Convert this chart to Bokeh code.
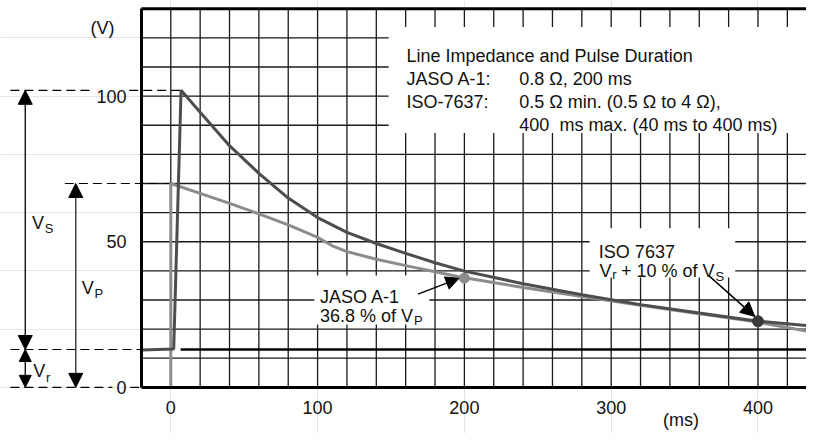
from bokeh.plotting import figure
from bokeh.models import Range1d, LinearAxis, FixedTicker, Arrow, NormalHead
from bokeh.core.properties import value
from bokeh.embed import file_html
from bokeh.resources import INLINE

# ---------------- data ----------------
ISO_T = [-20, 2, 7, 20, 40, 60, 80, 100, 120, 140, 160, 180, 200, 240, 280, 320, 360, 400, 433]
ISO_V = [12.8, 13.2, 102, 94.5, 83, 73.5, 65, 58.3, 53.2, 49.4, 46.0, 42.8, 39.9, 35.6, 31.8, 28.4, 25.5, 22.7, 21.2]

JASO_T = [0, 0, 20, 40, 60, 80, 100, 110, 120, 140, 160, 180, 200, 240, 280, 320, 360, 400, 433]
JASO_V = [0, 70, 66.6, 63.2, 59.6, 55.8, 51.5, 48.6, 46.6, 44.0, 41.8, 39.7, 37.6, 34.3, 31.2, 28.2, 25.3, 22.4, 19.3]

MARK_T = [200, 400]
MARK_V = [37.5, 22.7]

V_R = 13        # Vr level
V_S_PEAK = 102  # ISO peak
V_P_PEAK = 70   # JASO peak
ISO_PEAK_T = 7
RISE_T = 6.7

X_TICKS = [0, 100, 200, 300, 400]
Y_TICKS = [0, 50, 100]
X_GRID = list(range(0, 440, 20))
Y_GRID = list(range(10, 130, 10))
X_MIN, X_MAX = -20, 440
Y_MAX = 130

# ---------------- layout helpers ----------------
W, H = 806, 433
X0, X1 = -116.0, 433.05
Y0, Y1 = -15.85, 132.84
S = W / 814.0


def X(px):   # reference-picture pixel -> data x
    return X0 + px * (X1 - X0) / 814.0


def Y(py):   # reference-picture pixel -> data y
    return Y1 - py * (Y1 - Y0) / 441.0


FONT = value("Liberation Sans")
FS = value("18px")
SUB = value("13px")
DARK = "#4d4d4d"
LIGHT = "#8c8c8c"
INK = "#111111"

p = figure(width=W, height=H, x_range=Range1d(X0, X1), y_range=Range1d(Y0, Y1),
           output_backend="svg", toolbar_location=None, min_border=0,
           x_axis_location=None, y_axis_location=None, title=None)
p.outline_line_color = None
p.background_fill_color = "white"
p.border_fill_color = "white"

# grid
p.segment(x0=X_GRID, y0=0, x1=X_GRID, y1=Y_MAX, line_color="#1a1a1a", line_width=1.3)
p.segment(x0=X_MIN, y0=Y_GRID, x1=X_MAX, y1=Y_GRID, line_color="#1a1a1a", line_width=1.3)
p.segment(x0=X_MIN, y0=Y_MAX, x1=X_MAX, y1=Y_MAX, line_color="black", line_width=3)

# white label boxes
p.quad(left=[X(392), X(317), X(595)], right=[X_MAX, X(433), X(742)],
       top=[Y(27), Y(280), Y(232)], bottom=[Y(135), Y(330), Y(282)],
       fill_color="white", line_color=None)

# dashed guide lines
dash = dict(line_color="black", line_width=1.2, line_dash="9 5")
p.segment(x0=[X(10), X(130)], y0=V_S_PEAK, x1=[X(93), ISO_PEAK_T], y1=V_S_PEAK, **dash)
p.segment(x0=X(65), y0=V_P_PEAK, x1=0, y1=V_P_PEAK, **dash)
p.segment(x0=X(10), y0=V_R, x1=X_MIN, y1=V_R, **dash)
p.segment(x0=[X(10), X(131)], y0=0, x1=[X(113), X_MIN], y1=0, **dash)

# Vr reference line
p.segment(x0=RISE_T, y0=V_R, x1=X_MAX, y1=V_R, line_color="black", line_width=2.6)

# curves
p.line(JASO_T, JASO_V, line_color=LIGHT, line_width=3)
p.line(ISO_T, ISO_V, line_color=DARK, line_width=3)
p.scatter(MARK_T[:1], MARK_V[:1], size=10, color=LIGHT)
p.scatter(MARK_T[1:], MARK_V[1:], size=11, color="#3a3a3a")

# axes fixed inside the frame
yax = LinearAxis(fixed_location=X_MIN, bounds=(0, Y_MAX), ticker=FixedTicker(ticks=Y_TICKS, minor_ticks=[]))
xax = LinearAxis(fixed_location=0, bounds=(X_MIN, X_MAX), ticker=FixedTicker(ticks=X_TICKS, minor_ticks=[]))
for ax, so in ((yax, 15), (xax, 14)):
    ax.axis_line_width = 3
    ax.axis_line_color = "black"
    ax.major_tick_in = 0
    ax.major_tick_out = 0
    ax.minor_tick_in = 0
    ax.minor_tick_out = 0
    ax.major_label_standoff = so
    ax.major_label_text_font = "Liberation Sans"
    ax.major_label_text_font_size = "18px"
    ax.major_label_text_color = INK
p.add_layout(yax, "left")
p.add_layout(xax, "below")


# texts (positions given in reference-picture pixels, baseline alphabetic)
def txt(px, py, s, size=FS):
    p.text(x=[X(px)], y=[Y(py)], text=[s], text_font=FONT, text_font_size=size, text_color=INK,
           text_baseline="alphabetic", text_align="left")


def sub_after(px, width18, py, s):
    # subscript placed just after a main text of given rendered width (px at 18px font)
    txt(px + (width18 + 0.8) / S, py, s, SUB)


txt(410, 56.7, "Line Impedance and Pulse Duration")
txt(410, 80.0, "JASO A-1:")
txt(524, 80.0, "0.8 Ω, 200 ms")
txt(410, 103.3, "ISO-7637:")
txt(524, 103.3, "0.5 Ω min. (0.5 Ω to 4 Ω),")
txt(524, 126.7, "400\u00a0 ms max. (40 ms to 400 ms)")

txt(322.7, 301.7, "JASO A-1")
txt(322.7, 321.7, "36.8 % of V")
sub_after(322.7, 93.06, 325.5, "P")

txt(604.3, 256.0, "ISO 7637")
txt(605.0, 275.0, "V")
sub_after(605.0, 12.0, 279.5, "r")
txt(626.7, 275.0, "+ 10 % of V")
sub_after(626.7, 93.56, 281.5, "S")

txt(91, 27.5, "(V)")
txt(669, 427.5, "(ms)")
txt(31.7, 226.7, "V")
sub_after(31.7, 12.0, 232.0, "S")
txt(82, 293.0, "V")
sub_after(82, 12.0, 298.5, "P")
txt(33, 377.0, "V")
sub_after(33, 12.0, 384.0, "r")


# dimension arrows
def head(sz):
    return NormalHead(size=sz, fill_color="black", line_color="black", line_width=1)


p.add_layout(Arrow(x_start=X(25), y_start=V_R, x_end=X(25), y_end=V_S_PEAK,
                   start=head(14), end=head(14), line_color="black", line_width=1.3))
p.add_layout(Arrow(x_start=X(25), y_start=0, x_end=X(25), y_end=V_R,
                   start=head(12), end=head(12), line_color="black", line_width=1.3))
p.add_layout(Arrow(x_start=X(76), y_start=0, x_end=X(76), y_end=V_P_PEAK,
                   start=head(14), end=head(14), line_color="#444444", line_width=1.5))

# pointer arrows
p.add_layout(Arrow(x_start=X(421.7), y_start=Y(299), x_end=X(463), y_end=Y(283),
                   end=head(13), line_color="black", line_width=1.5))
p.add_layout(Arrow(x_start=X(715), y_start=Y(280), x_end=X(761.7), y_end=Y(321.7),
                   end=head(14), line_color="black", line_width=1.5))

open("out.html", "w").write(file_html(p, INLINE))
